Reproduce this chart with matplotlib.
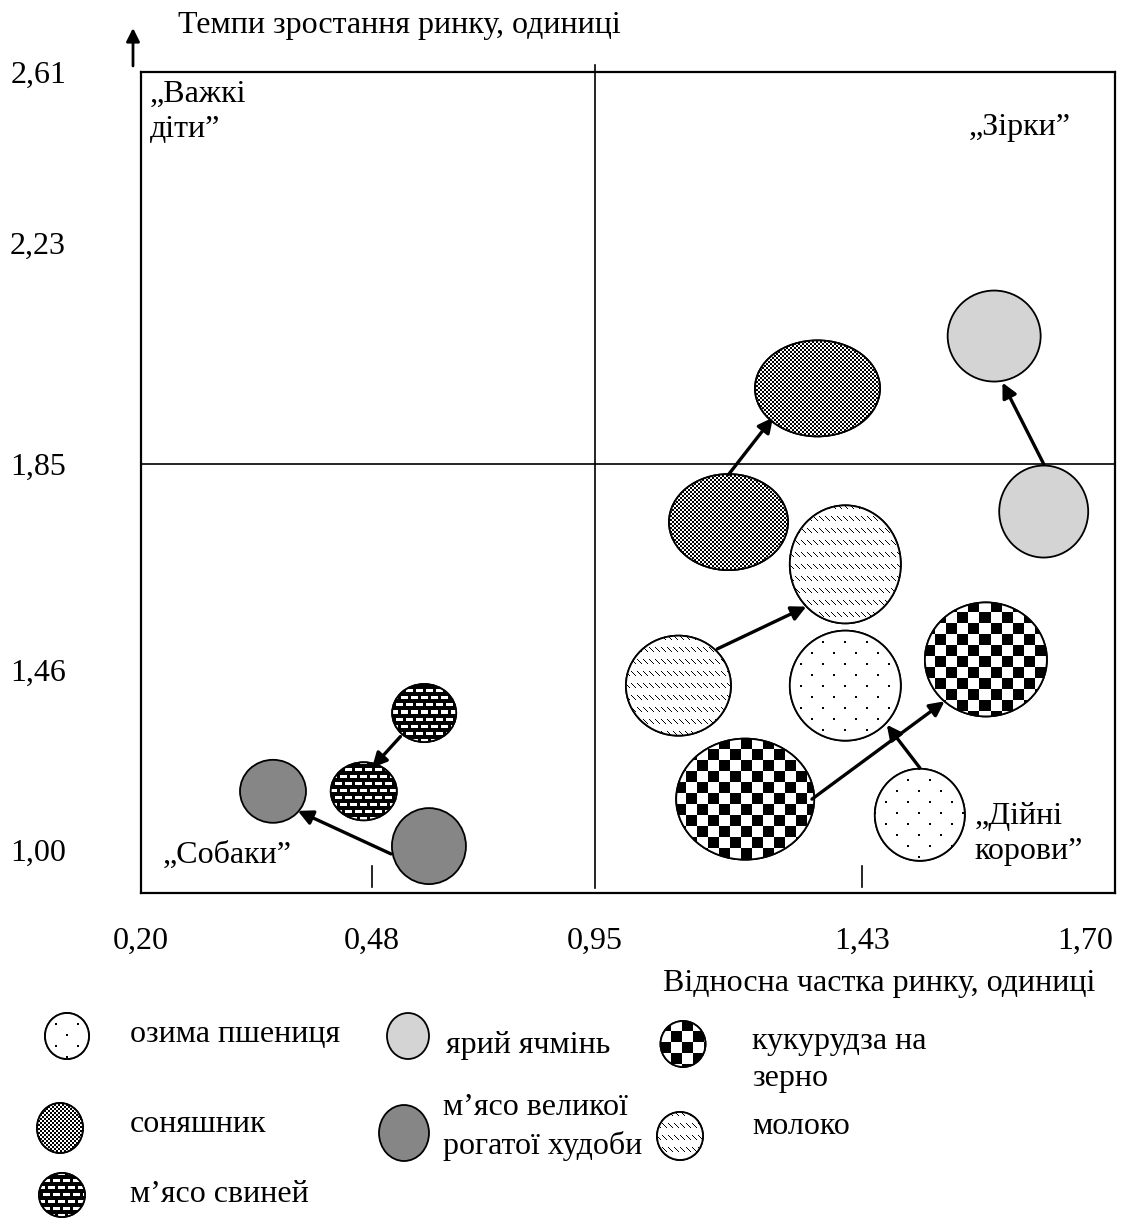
import numpy as np
import matplotlib
matplotlib.use('Agg')
import matplotlib.pyplot as plt
import matplotlib.transforms as mtransforms
from matplotlib.patches import Ellipse

plt.rcParams['font.family'] = ['Liberation Serif', 'DejaVu Serif']
plt.rcParams['font.size'] = 23

# axis ticks (the original axes are not to scale)
x_ticks = [0.20, 0.48, 0.95, 1.43, 1.70]
x_tick_labels = ['0,20', '0,48', '0,95', '1,43', '1,70']
y_ticks = [2.61, 2.23, 1.85, 1.46, 1.00]
y_tick_labels = ['2,61', '2,23', '1,85', '1,46', '1,00']
x_border = 0.95
y_border = 1.85

products = ['ярий ячмінь', 'соняшник', 'молоко', 'озима пшениця',
            'кукурудза на зерно', 'м’ясо свиней', 'м’ясо великої рогатої худоби']
share_before = [1.65, 1.19, 1.10, 1.50, 1.22, 0.59, 0.60]
growth_before = [1.76, 1.74, 1.42, 1.09, 1.13, 1.35, 1.01]
share_after = [1.59, 1.35, 1.40, 1.40, 1.58, 0.47, 0.36]
growth_after = [2.07, 1.98, 1.66, 1.42, 1.48, 1.15, 1.15]
# bubble width, height in pixels
size_before = [(89, 92), (119, 96), (105, 100), (90, 92), (138, 121), (64, 58), (74, 76)]
size_after = [(93, 91), (125, 96), (111, 118), (111, 110), (122, 114), (66, 58), (66, 63)]
# arrows are hand drawn in the original, so their ends are kept separately
arrow_start = [(1.65, 1.85), (1.19, 1.83), (1.17, 1.50), (1.50, 1.21),
               (1.34, 1.13), (0.54, 1.29), (0.52, 0.99)]
arrow_end = [(1.60, 1.99), (1.27, 1.93), (1.33, 1.58), (1.46, 1.32),
             (1.53, 1.38), (0.48, 1.21), (0.39, 1.10)]
fills = ['light', 'fine', 'dash', 'dots', 'check', 'brick', 'dark']

legend_labels = ['озима пшениця', 'ярий ячмінь', 'кукурудза на\nзерно',
                 'соняшник', 'м’ясо великої\nрогатої худоби', 'молоко', 'м’ясо свиней']
legend_fills = ['dots', 'light', 'check', 'fine', 'dark', 'dash', 'brick']
# symbol x, y, w, h and text x, y in figure pixels
legend_place = [(67, 1036, 44, 46, 130, 1035), (408, 1036, 42, 46, 446, 1045),
                (683, 1044, 45, 46, 752, 1060), (60, 1128, 46, 50, 130, 1125),
                (404, 1133, 50, 56, 443, 1127), (680, 1136, 46, 48, 752, 1126),
                (62, 1195, 46, 44, 130, 1194)]


def pattern(kind, w, h):
    i, j = np.mgrid[0:int(h) + 2, 0:int(w) + 2]
    if kind == 'dots':
        black = ((i % 11) < 2) & (((j + 11 * ((i // 11) % 2)) % 22) < 2)
    elif kind == 'check':
        black = ((i // 11) + (j // 11)) % 2 == 0
    elif kind == 'fine':
        black = ((i // 2) + (j // 2)) % 2 == 0
    elif kind == 'dash':
        black = ((i % 12) < 5) & ((j - i) % 6 == 0)
    else:  # brick
        black = ~(((i % 7) < 3) & (((j + 5 * ((i // 7) % 2)) % 10) < 7))
    return np.where(black, 0.0, 1.0)


def bubble(axis, x, y, w, h, kind, z=3):
    tr = mtransforms.ScaledTranslation(x, y, axis.transData)
    face = {'light': '#d4d4d4', 'dark': '#868686'}.get(kind, 'white')
    axis.add_patch(Ellipse((0, 0), w, h, transform=tr, facecolor=face,
                           edgecolor='black', lw=1.3, zorder=z))
    if kind in ('light', 'dark'):
        return
    clip = Ellipse((0, 0), w, h, transform=tr, facecolor='none', edgecolor='none')
    axis.add_patch(clip)
    im = axis.imshow(pattern(kind, w, h), cmap='gray', vmin=0, vmax=1,
                     extent=(-w / 2 - 1, w / 2 + 1, -h / 2 - 1, h / 2 + 1),
                     transform=tr, interpolation='nearest', aspect='auto',
                     zorder=z + 0.1)
    im.set_clip_path(clip)
    axis.add_patch(Ellipse((0, 0), w, h, transform=tr, facecolor='none',
                           edgecolor='black', lw=1.3, zorder=z + 0.2))


fig = plt.figure(figsize=(11.21, 12.18), dpi=100)

# background axes in figure pixels for titles and legend
lax = fig.add_axes([0, 0, 1, 1])
lax.set_xlim(0, 1121)
lax.set_ylim(1218, 0)
lax.axis('off')

ax = fig.add_axes([141 / 1121, 1 - 893 / 1218, 974 / 1121, 821 / 1218])
ax.patch.set_visible(False)

x_knots = [0.20, 0.48, 0.95, 1.43, 1.70, 1.736]
x_place = [0, 231, 454, 721, 944, 974]
y_knots = [0.89, 1.00, 1.46, 1.85, 2.23, 2.61]
y_place = [0, 43, 223, 429, 650, 821]
ax.set_xscale('function', functions=(lambda v: np.interp(v, x_knots, x_place),
                                     lambda p: np.interp(p, x_place, x_knots)))
ax.set_yscale('function', functions=(lambda v: np.interp(v, y_knots, y_place),
                                     lambda p: np.interp(p, y_place, y_knots)))

for k in range(len(products)):
    bubble(ax, share_after[k], growth_after[k], *size_after[k], fills[k])
    bubble(ax, share_before[k], growth_before[k], *size_before[k], fills[k])
    ax.annotate('', xy=arrow_end[k], xytext=arrow_start[k],
                arrowprops=dict(arrowstyle='-|>', lw=2.4, color='black',
                                mutation_scale=22, shrinkA=0, shrinkB=0),
                zorder=5)

ax.axhline(y_border, color='black', lw=1.2, zorder=2)
ax.axvline(x_border, ymin=0.006, ymax=1.009, color='black', lw=1.2,
           zorder=2, clip_on=False)
xt = ax.get_xaxis_transform()
for v in [0.48, 1.43]:
    ax.plot([v, v], [0.007, 0.033], transform=xt, color='black', lw=1.2)

ax.set_xlim(x_knots[0], x_knots[-1])
ax.set_ylim(y_knots[0], y_knots[-1])
ax.set_xticks(x_ticks, x_tick_labels)
ax.set_yticks(y_ticks, y_tick_labels)
ax.set_yticks([2.23, 1.85, 1.46], minor=True)
ax.tick_params(axis='both', which='major', length=0)
ax.tick_params(axis='x', which='major', pad=24)
ax.tick_params(axis='y', which='major', pad=54)
ax.tick_params(axis='y', which='minor', direction='inout', length=16, width=1.3)
for s in ax.spines.values():
    s.set_linewidth(1.6)

ax.text(0.009, 0.99, '„Важкі\nдіти”', transform=ax.transAxes, ha='left', va='top',
        linespacing=1.25)
ax.text(0.902, 0.933, '„Зірки”', transform=ax.transAxes, ha='center', va='center')
ax.text(0.022, 0.046, '„Собаки”', transform=ax.transAxes, ha='left', va='center')
ax.text(0.856, 0.072, '„Дійні\nкорови”', transform=ax.transAxes, ha='left',
        va='center', linespacing=1.3)

lax.text(178, 25, 'Темпи зростання ринку, одиниці', ha='left', va='center')
lax.text(1095, 983, 'Відносна частка ринку, одиниці', ha='right', va='center')
lax.annotate('', xy=(133, 28), xytext=(133, 66),
             arrowprops=dict(arrowstyle='-|>', lw=2, color='black',
                             mutation_scale=20, shrinkA=0, shrinkB=0))

for label, kind, (sx, sy, sw, sh, tx, ty) in zip(legend_labels, legend_fills, legend_place):
    bubble(lax, sx, sy, sw, sh, kind)
    lax.text(tx, ty, label, ha='left', va='center', linespacing=1.4)

lax.set_xlim(0, 1121)
lax.set_ylim(1218, 0)

fig.savefig('out.png', dpi=100)
